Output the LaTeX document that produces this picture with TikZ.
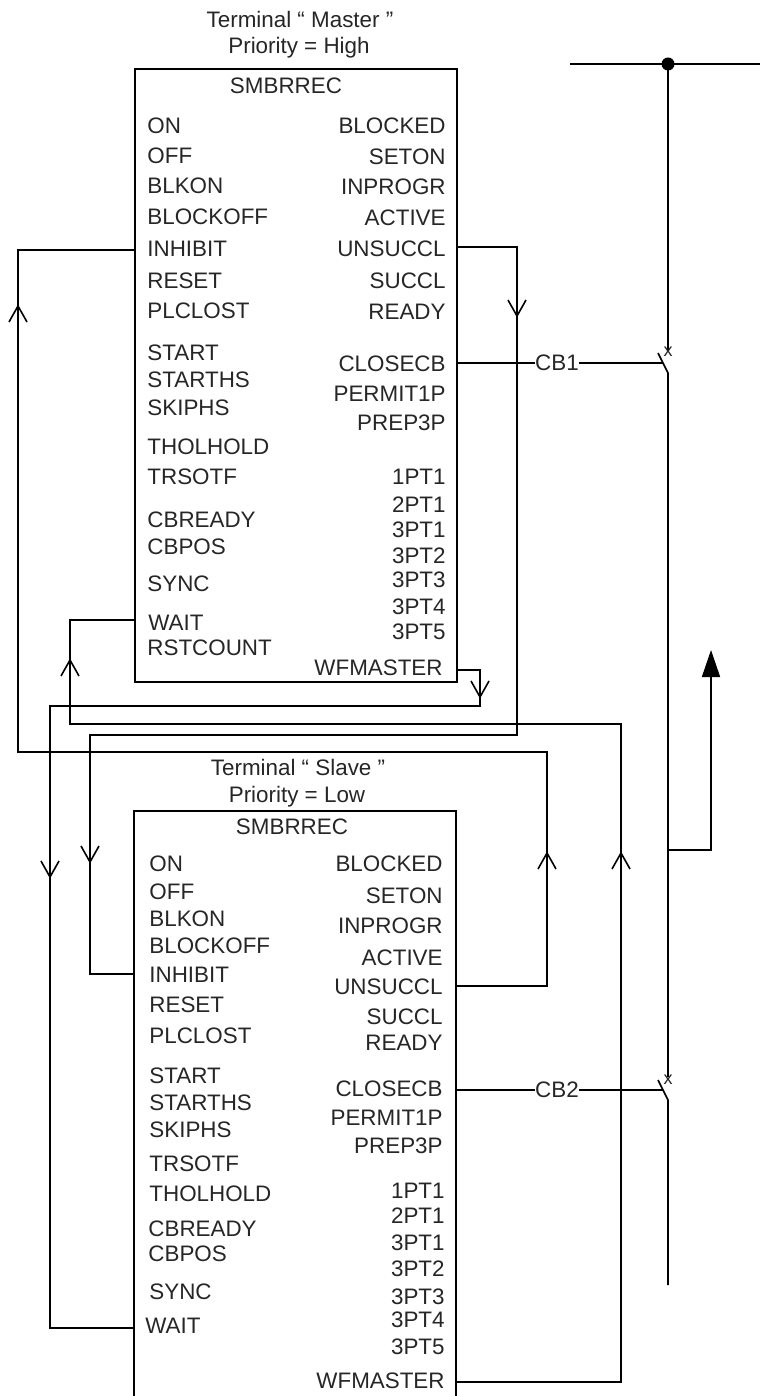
\documentclass[tikz,border=0pt]{standalone}
\usepackage{fontspec}
\setmainfont{Liberation Sans}
\usetikzlibrary{arrows.meta,positioning}
\tikzset{
    lbl/.style={font=\fontsize{11.2}{13}\selectfont, text=black!85, inner sep=0pt},
    lft/.style={lbl, anchor=west},
    rgt/.style={lbl, anchor=east},
    tag/.style={font=\fontsize{9}{10}\selectfont, text=black!85, inner sep=0pt},
    wire/.style={line width=0.8pt},
    filltip/.style={wire, -{Triangle[length=13.5pt,width=9pt]}}
}
\newcommand{\veedown}[1]{\draw[wire] (#1) ++(-9,-16) -- (#1) -- ++(9,-16);}
\newcommand{\veeup}[1]{\draw[wire] (#1) ++(-9,16) -- (#1) -- ++(9,16);}
\begin{document}
\begin{tikzpicture}[x=0.5pt,y=-0.5pt]
    \useasboundingbox (0,0) rectangle (760,1396);
    % master block
    \node[lbl] (mTitle) at (300,19) {Terminal “ Master ”};
    \node[lbl] (mPrio) at (299,48) {Priority = High};
    \draw[wire] (135,69) rectangle (457,682);
    \node[lbl] (mName) at (286,86) {SMBRREC};
    \node[lft] (mOn) at (147,126) {ON};
    \node[lft] (mOff) at (147,156) {OFF};
    \node[lft] (mBlkon) at (147,186) {BLKON};
    \node[lft] (mBlockoff) at (147,217) {BLOCKOFF};
    \node[lft] (mInhibit) at (147,249) {INHIBIT};
    \node[lft] (mReset) at (147,281) {RESET};
    \node[lft] (mPlclost) at (147,311) {PLCLOST};
    \node[lft] (mStart) at (147,353) {START};
    \node[lft] (mStarths) at (147,380) {STARTHS};
    \node[lft] (mSkiphs) at (147,408) {SKIPHS};
    \node[lft] (mTholhold) at (147,447) {THOLHOLD};
    \node[lft] (mTrsotf) at (147,477) {TRSOTF};
    \node[lft] (mCbready) at (147,520) {CBREADY};
    \node[lft] (mCbpos) at (147,547) {CBPOS};
    \node[lft] (mSync) at (147,584) {SYNC};
    \node[lft] (mWait) at (148,623) {WAIT};
    \node[lft] (mRstcount) at (147,648) {RSTCOUNT};
    \node[rgt] (mBlocked) at (446,126) {BLOCKED};
    \node[rgt] (mSeton) at (446,157) {SETON};
    \node[rgt] (mInprogr) at (446,187) {INPROGR};
    \node[rgt] (mActive) at (446,218) {ACTIVE};
    \node[rgt] (mUnsuccl) at (446,249) {UNSUCCL};
    \node[rgt] (mSuccl) at (446,281) {SUCCL};
    \node[rgt] (mReady) at (446,312) {READY};
    \node[rgt] (mClosecb) at (446,364) {CLOSECB};
    \node[rgt] (mPermit) at (446,394) {PERMIT1P};
    \node[rgt] (mPrep) at (446,423) {PREP3P};
    \node[rgt] (mOnePt) at (446,477) {1PT1};
    \node[rgt] (mTwoPt) at (446,505) {2PT1};
    \node[rgt] (mPtA) at (446,530) {3PT1};
    \node[rgt] (mPtB) at (446,556) {3PT2};
    \node[rgt] (mPtC) at (446,580) {3PT3};
    \node[rgt] (mPtD) at (446,607) {3PT4};
    \node[rgt] (mPtE) at (446,632) {3PT5};
    \node[rgt] (mWfmaster) at (443,668) {WFMASTER};
    % slave block
    \node[lbl] (sTitle) at (298,767) {Terminal “ Slave ”};
    \node[lbl] (sPrio) at (297,797) {Priority = Low};
    \draw[wire] (134,1396) -- (134,811) -- (456,811) -- (456,1396);
    \node[lbl] (sName) at (292,827) {SMBRREC};
    \node[lft] (sOn) at (149,864) {ON};
    \node[lft] (sOff) at (149,892) {OFF};
    \node[lft] (sBlkon) at (149,919) {BLKON};
    \node[lft] (sBlockoff) at (149,946) {BLOCKOFF};
    \node[lft] (sInhibit) at (149,975) {INHIBIT};
    \node[lft] (sReset) at (149,1005) {RESET};
    \node[lft] (sPlclost) at (149,1036) {PLCLOST};
    \node[lft] (sStart) at (149,1076) {START};
    \node[lft] (sStarths) at (149,1103) {STARTHS};
    \node[lft] (sSkiphs) at (149,1130) {SKIPHS};
    \node[lft] (sTrsotf) at (149,1164) {TRSOTF};
    \node[lft] (sTholhold) at (149,1194) {THOLHOLD};
    \node[lft] (sCbready) at (148,1229) {CBREADY};
    \node[lft] (sCbpos) at (148,1254) {CBPOS};
    \node[lft] (sSync) at (149,1292) {SYNC};
    \node[lft] (sWait) at (145,1326) {WAIT};
    \node[rgt] (sBlocked) at (443,864) {BLOCKED};
    \node[rgt] (sSeton) at (443,896) {SETON};
    \node[rgt] (sInprogr) at (443,926) {INPROGR};
    \node[rgt] (sActive) at (443,958) {ACTIVE};
    \node[rgt] (sUnsuccl) at (443,987) {UNSUCCL};
    \node[rgt] (sSuccl) at (443,1017) {SUCCL};
    \node[rgt] (sReady) at (443,1043) {READY};
    \node[rgt] (sClosecb) at (443,1089) {CLOSECB};
    \node[rgt] (sPermit) at (443,1118) {PERMIT1P};
    \node[rgt] (sPrep) at (443,1146) {PREP3P};
    \node[rgt] (sOnePt) at (445,1191) {1PT1};
    \node[rgt] (sTwoPt) at (445,1216) {2PT1};
    \node[rgt] (sPtA) at (445,1243) {3PT1};
    \node[rgt] (sPtB) at (445,1269) {3PT2};
    \node[rgt] (sPtC) at (445,1297) {3PT3};
    \node[rgt] (sPtD) at (445,1320) {3PT4};
    \node[rgt] (sPtE) at (445,1347) {3PT5};
    \node[rgt] (sWfmaster) at (445,1381) {WFMASTER};
    % power line
    \coordinate (busL) at (570,64);
    \coordinate (busR) at (760,64);
    \coordinate (busT) at (668,64);
    \coordinate (cbOneTop) at (668,350);
    \coordinate (cbOneBot) at (668,373);
    \coordinate (cbOneFree) at (658,353);
    \coordinate (cbTwoTop) at (668,1077);
    \coordinate (cbTwoBot) at (668,1100);
    \coordinate (cbTwoFree) at (658,1080);
    \coordinate (lineEnd) at (668,1285);
    \coordinate (branch) at (668,850);
    \coordinate (outTip) at (711,650);
    \draw[wire] (busL) -- (busR);
    \fill (busT) circle (6.5);
    \draw[wire] (busT) -- (cbOneTop);
    \draw[wire] (cbOneFree) -- (cbOneBot) -- (cbTwoTop);
    \draw[wire] (cbTwoFree) -- (cbTwoBot) -- (lineEnd);
    \draw[filltip] (branch) -| (outTip);
    \node[tag] (xOne) at (668,352) {x};
    \node[tag] (xTwo) at (668,1080) {x};
    % trip lines
    \node[lbl] (cbOne) at (557,363) {CB1};
    \node[lbl] (cbTwo) at (557,1090) {CB2};
    \coordinate (mClose) at (457,363);
    \coordinate (sClose) at (456,1090);
    \coordinate (cbOneMid) at (663,363);
    \coordinate (cbTwoMid) at (663,1090);
    \draw[wire] (mClose) -- (cbOne) -- (cbOneMid);
    \draw[wire] (sClose) -- (cbTwo) -- (cbTwoMid);
    % cross connections
    \coordinate (mUns) at (457,247);
    \coordinate (mInh) at (135,250);
    \coordinate (mWai) at (135,620);
    \coordinate (mWfm) at (457,670);
    \coordinate (sUns) at (456,986);
    \coordinate (sInh) at (134,974);
    \coordinate (sWai) at (134,1328);
    \coordinate (sWfm) at (456,1382);
    \coordinate (tipA) at (517,316);
    \coordinate (tipB) at (90,862);
    \coordinate (tipC) at (18,306);
    \coordinate (tipD) at (547,853);
    \coordinate (tipE) at (70,660);
    \coordinate (tipF) at (621,853);
    \coordinate (tipG) at (480,697);
    \coordinate (tipH) at (50,877);
    \draw[wire] (mUns) -| (tipA) -- (517,735) -- (90,735) -- (tipB) |- (sInh);
    \draw[wire] (mInh) -| (18,752) -- (547,752) -- (tipD) |- (sUns);
    \draw[wire] (sWfm) -| (tipF) -- (621,724) -- (70,724) -- (tipE) |- (mWai);
    \draw[wire] (mWfm) -| (tipG) -- (480,706) -- (50,706) -- (tipH) |- (sWai);
    \veedown{tipA}
    \veedown{tipB}
    \veeup{tipC}
    \veeup{tipD}
    \veeup{tipE}
    \veeup{tipF}
    \veedown{tipG}
    \veedown{tipH}
\end{tikzpicture}
\end{document}
